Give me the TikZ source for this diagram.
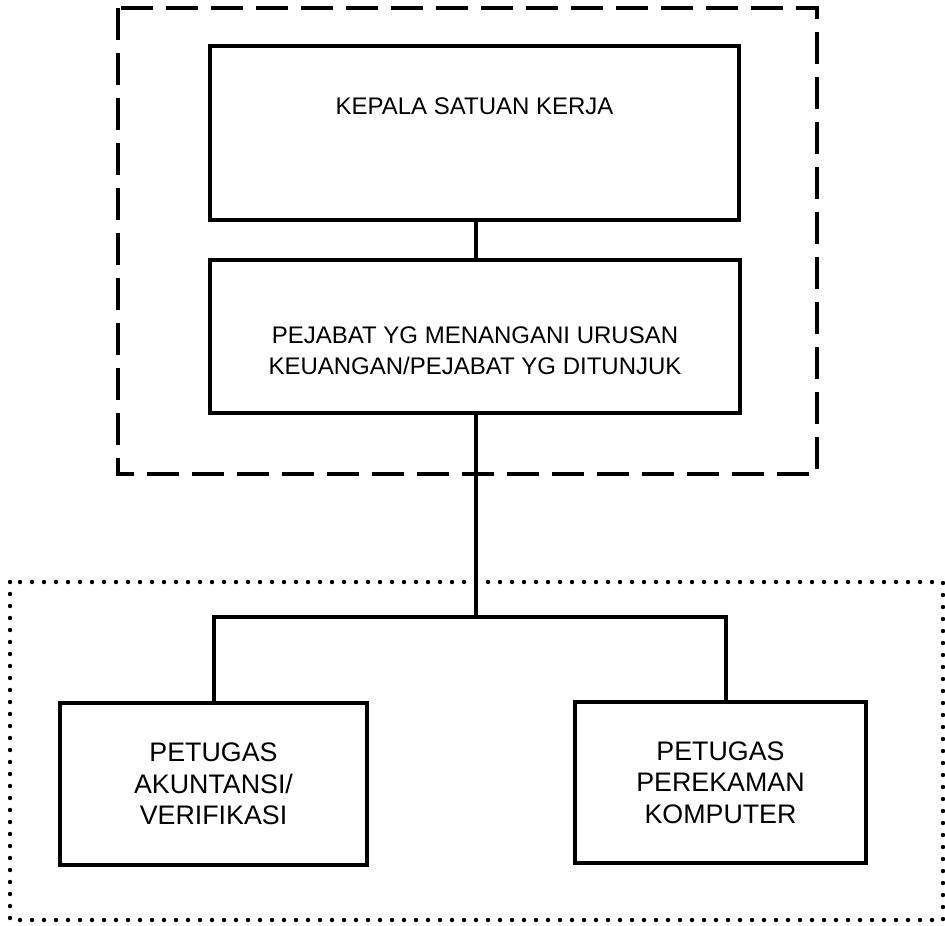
\documentclass[tikz,border=0pt]{standalone}
\usepackage{fontspec}
\setmainfont{Liberation Sans}

\begin{document}
\begin{tikzpicture}[x=0.5pt, y=-0.5pt,
                    kotak/.style={draw, line width=2.2pt, inner sep=0pt, align=center,
                                  font=\fontsize{13.4}{15.8}\selectfont},
                    teks/.style={inner sep=0pt, align=center,
                                 font=\fontsize{12}{15.5}\selectfont},
                    garis/.style={line width=2pt}]
  \useasboundingbox (0,0) rectangle (945,925);

  \draw[line width=2pt, dash pattern=on 16pt off 6.5pt] (118,8) rectangle (817,474);
  \draw[line width=2.2pt, line cap=round, dash pattern=on 0pt off 6pt] (10,582) rectangle (943,920);

  \node[kotak, minimum width=264.5pt, minimum height=87pt] (kepala) at (474.5,133) {};
  \node[teks] (kepalateks) at (474.5,106) {KEPALA SATUAN KERJA};

  \node[kotak, minimum width=265pt, minimum height=76.5pt] (pejabat) at (475,336.5) {};
  \node[teks] (pejabatteks) at (475,351) {PEJABAT YG MENANGANI URUSAN\\KEUANGAN/PEJABAT YG DITUNJUK};

  \node[kotak, minimum width=153.5pt, minimum height=81pt] (akuntansi) at (213.5,784)
    {PETUGAS\\AKUNTANSI/\\VERIFIKASI};
  \node[kotak, minimum width=145.5pt, minimum height=80.5pt] (rekam) at (720.5,782.5)
    {PETUGAS\\PEREKAMAN\\KOMPUTER};

  \coordinate (cabang) at (476,617);
  \draw[garis] (kepala.south -| cabang) -- (pejabat.north -| cabang);
  \draw[garis] (pejabat.south -| cabang) -- (cabang);
  \draw[garis] (akuntansi.north) |- (cabang) -| ([xshift=2.5pt]rekam.north);
\end{tikzpicture}
\end{document}
